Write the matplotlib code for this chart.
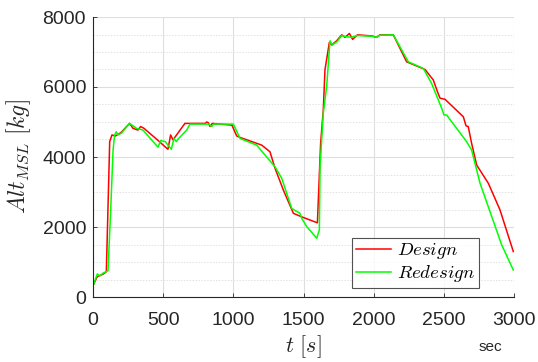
import matplotlib
matplotlib.use("Agg")
import matplotlib.pyplot as plt
from matplotlib.ticker import MultipleLocator

plt.rcParams['mathtext.fontset'] = 'cm'
plt.rcParams['font.family'] = ['Liberation Sans', 'DejaVu Sans']

design_t = [5, 30, 52, 71, 95, 119, 135, 160, 200, 261, 285, 320, 340, 363, 450, 534, 553,
            570, 601, 655, 800, 810, 822, 834, 850, 990, 1024, 1047, 1202, 1261, 1297, 1356,
            1428, 1487, 1599, 1622, 1641, 1653, 1684, 1701, 1736, 1772, 1796, 1827, 1850,
            1884, 1986, 2021, 2045, 2140, 2235, 2366, 2425, 2454, 2473, 2508, 2639, 2658,
            2674, 2698, 2734, 2817, 2900, 2995]
design_alt = [370, 580, 620, 650, 720, 4440, 4630, 4600, 4700, 4960, 4820, 4770, 4870, 4820,
              4520, 4220, 4630, 4490, 4660, 4960, 4960, 5000, 4980, 4870, 4960, 4910, 4600,
              4560, 4340, 4150, 3680, 3060, 2390, 2290, 2120, 4390, 5340, 6490, 7270, 7200,
              7320, 7490, 7420, 7530, 7360, 7490, 7460, 7420, 7490, 7490, 6720, 6500, 6200,
              5870, 5680, 5650, 5150, 4890, 4870, 4390, 3770, 3250, 2490, 1300]

redesign_t = [5, 31, 48, 71, 107, 126, 143, 154, 166, 178, 202, 261, 309, 356, 463, 482, 515,
              534, 558, 577, 594, 608, 668, 691, 815, 827, 846, 860, 1000, 1048, 1166, 1297,
              1345, 1416, 1475, 1487, 1523, 1594, 1613, 1618, 1641, 1665, 1689, 1705, 1740,
              1772, 1800, 1840, 1884, 1986, 2021, 2045, 2140, 2247, 2354, 2413, 2485, 2501,
              2520, 2662, 2698, 2758, 2912, 2995]
redesign_alt = [370, 660, 600, 680, 750, 2490, 4200, 4630, 4720, 4630, 4680, 4960, 4820, 4770,
                4280, 4470, 4440, 4340, 4220, 4530, 4440, 4520, 4770, 4940, 4940, 4940, 4870,
                4940, 4940, 4530, 4340, 3720, 3390, 2530, 2390, 2250, 2010, 1680, 1910, 3720,
                5250, 6010, 7320, 7200, 7300, 7470, 7440, 7420, 7470, 7450, 7420, 7480, 7490,
                6720, 6530, 6100, 5390, 5200, 5200, 4440, 4200, 3250, 1490, 770]

fig = plt.figure(figsize=(5.38, 3.62), dpi=100)
ax = fig.add_axes([93/538, 1-297/362, (514-93)/538, (297-17)/362])

ax.plot(design_t, design_alt, color=(1, 0, 0), lw=1.1, label=r'$Design$')
ax.plot(redesign_t, redesign_alt, color=(0, 1, 0), lw=1.1, label=r'$Redesign$')

ax.set_xlim(0, 3000)
ax.set_ylim(0, 8000)
ax.xaxis.set_major_locator(MultipleLocator(500))
ax.yaxis.set_major_locator(MultipleLocator(2000))
ax.yaxis.set_minor_locator(MultipleLocator(500))
ax.grid(True, which='major', color='#dedede', lw=0.8)
ax.grid(True, which='minor', axis='y', color='#e2e2e2', lw=0.7, linestyle=(0, (1.5, 1.5)))
ax.set_axisbelow(True)

for s in ['top', 'right']:
    ax.spines[s].set_visible(False)
for s in ['left', 'bottom']:
    ax.spines[s].set_color('#262626')
    ax.spines[s].set_linewidth(0.8)

ax.tick_params(axis='both', which='major', direction='in', length=3, width=0.6,
               colors='#262626', labelsize=14)
ax.tick_params(axis='x', which='major', pad=11)
ax.tick_params(axis='y', which='major', pad=5)
ax.tick_params(axis='y', which='minor', left=False)

ax.set_ylabel(r'$Alt_{MSL}\ [kg]$', fontsize=17, color='#262626')
ax.yaxis.set_label_coords((33-93)/421, 0.5)
ax.set_xlabel(r'$t\ [s]$', fontsize=16, color='#262626')
ax.xaxis.set_label_coords(0.5, (297-333)/280)
fig.text(490/538, 1-347/362, 'sec', fontsize=11, ha='center', va='center', color='#262626')

leg = ax.legend(loc='lower right', bbox_to_anchor=(479/538, 1-288/362), bbox_transform=fig.transFigure,
                fontsize=13.5, frameon=True, fancybox=False, edgecolor='#262626',
                handlelength=1.9, borderpad=0.2, labelspacing=0.1, handletextpad=0.3,
                borderaxespad=0)
leg.get_frame().set_linewidth(0.8)

fig.savefig('out.png', dpi=100)
